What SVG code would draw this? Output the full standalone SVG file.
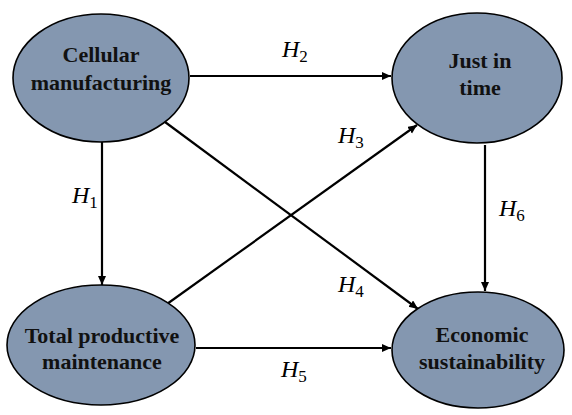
<svg xmlns="http://www.w3.org/2000/svg" width="572" height="415" viewBox="0 0 572 415">
<style>
.node ellipse{fill:#8497B0;stroke:#000;stroke-width:1.6}
.node text{font-family:"Liberation Serif","Times New Roman",serif;font-weight:bold;font-size:22px;fill:#111;text-anchor:middle}
.edges line{stroke:#000;stroke-width:2.2;marker-end:url(#arr)}
.lbl{font-family:"Liberation Serif","Times New Roman",serif;font-style:italic;font-size:24px;fill:#000}
.lbl tspan{font-style:normal;font-size:17px}
</style>
<defs>
<marker id="arr" markerUnits="userSpaceOnUse" markerWidth="10" markerHeight="10" refX="9" refY="4" orient="auto">
<path d="M0,0 L9,4 L0,8 z" fill="#000"/>
</marker>
</defs>
<rect width="572" height="415" fill="#fff"/>
<g class="edges">
<line x1="190" y1="76" x2="391" y2="76"/>
<line x1="102" y1="142" x2="102" y2="285"/>
<line x1="167" y1="304" x2="417" y2="125"/>
<line x1="165" y1="122" x2="418" y2="309"/>
<line x1="485" y1="145" x2="485" y2="291"/>
<line x1="196" y1="348" x2="391" y2="348"/>
</g>
<g class="labels">
<text class="lbl" x="282" y="57">H<tspan dy="5">2</tspan></text>
<text class="lbl" x="72" y="203">H<tspan dy="5">1</tspan></text>
<text class="lbl" x="338" y="143">H<tspan dy="5">3</tspan></text>
<text class="lbl" x="338" y="292">H<tspan dy="5">4</tspan></text>
<text class="lbl" x="499" y="216">H<tspan dy="5">6</tspan></text>
<text class="lbl" x="281" y="377">H<tspan dy="5">5</tspan></text>
</g>
<g id="cellular" class="node">
<ellipse cx="101" cy="78" rx="88" ry="64"/>
<text x="101" y="62">Cellular</text>
<text x="101" y="90">manufacturing</text>
</g>
<g id="jit" class="node">
<ellipse cx="477" cy="78" rx="85" ry="65"/>
<text x="480" y="68">Just in</text>
<text x="480" y="95">time</text>
</g>
<g id="tpm" class="node">
<ellipse cx="101" cy="345" rx="94" ry="60"/>
<text x="102" y="343">Total productive</text>
<text x="102" y="369">maintenance</text>
</g>
<g id="econ" class="node">
<ellipse cx="478" cy="350" rx="86" ry="58"/>
<text x="482" y="342">Economic</text>
<text x="482" y="369">sustainability</text>
</g>
</svg>
